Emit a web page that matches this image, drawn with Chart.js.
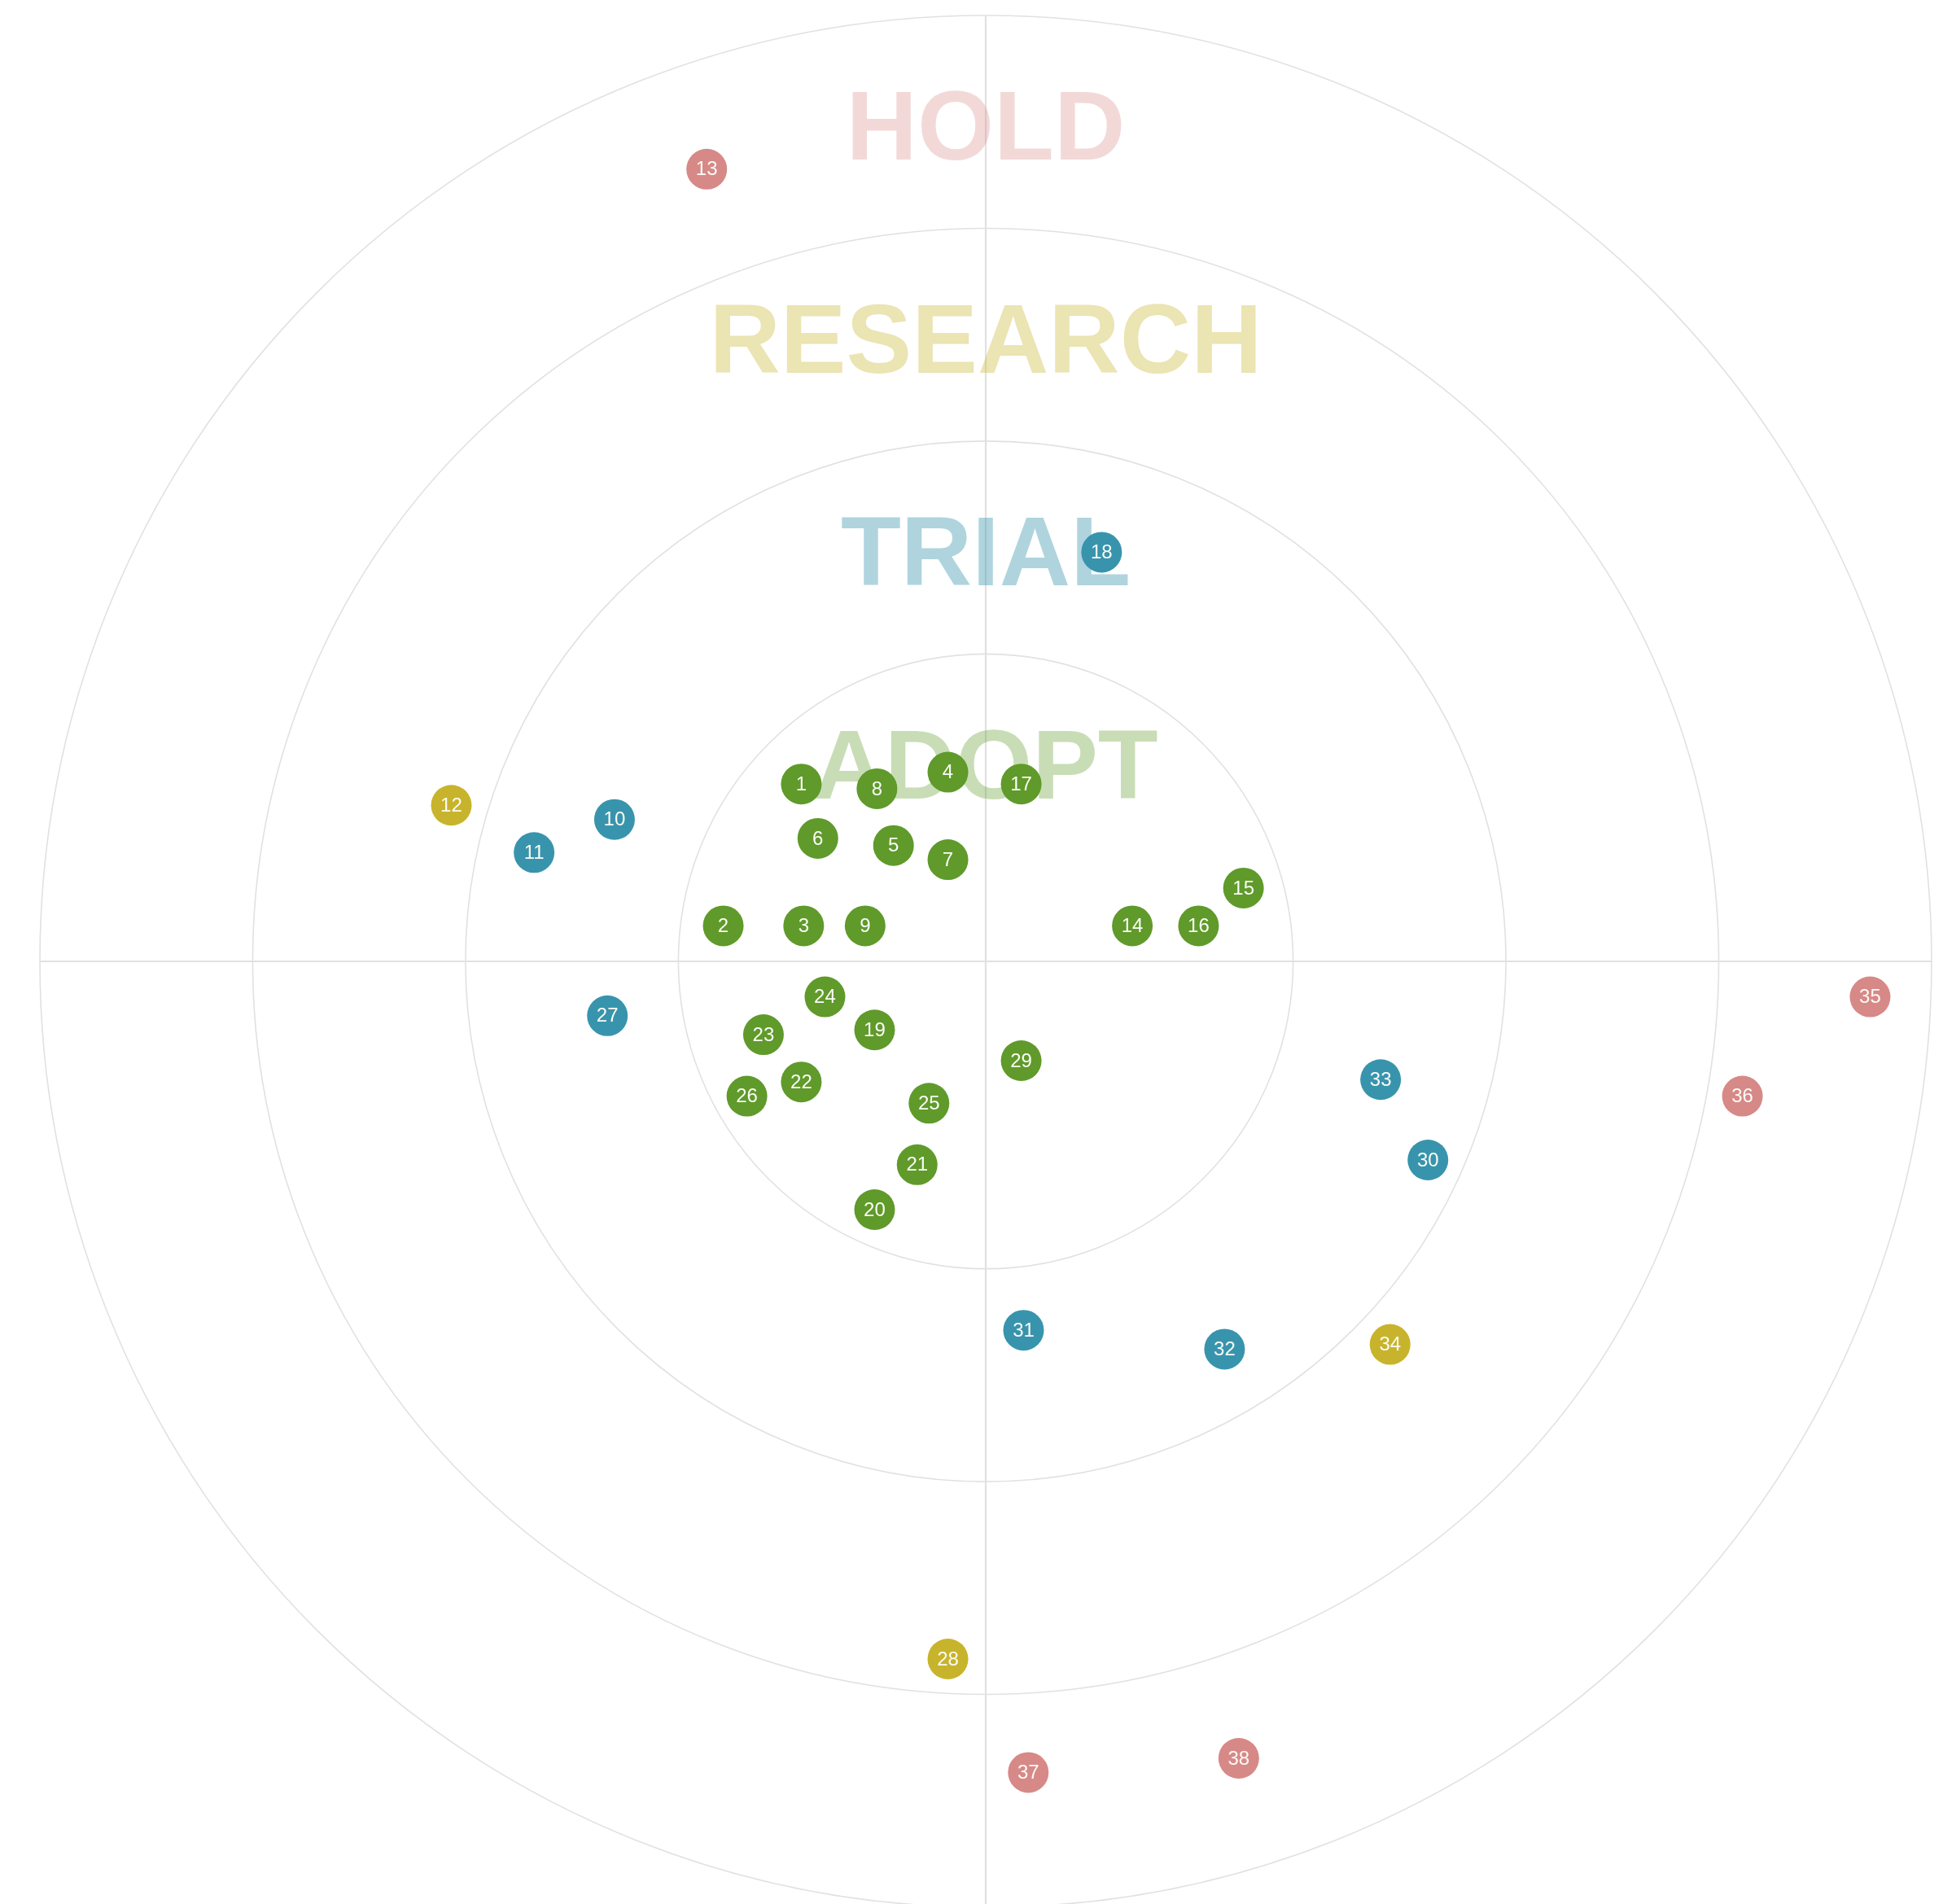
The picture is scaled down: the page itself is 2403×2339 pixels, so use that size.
<!DOCTYPE html>
<html>
<head>
<meta charset="utf-8">
<script src="https://cdn.jsdelivr.net/npm/chart.js@4.4.1/dist/chart.umd.min.js"></script>
<style>
html, body { margin: 0; padding: 0; background: #fff; }
#wrap { width: 2403px; height: 2339px; position: relative; }
</style>
</head>
<body>
<div id="wrap"><canvas id="radar"></canvas></div>
<script>
// rings, inner to outer
const ringNames = ["ADOPT", "TRIAL", "RESEARCH", "HOLD"];
const ringRadii = [130, 220, 310, 400];
const ringDotColors = ["#5f9a2a", "#3894ad", "#c8b42c", "#d68987"];
const ringLabelColors = [
    "rgba(95,154,42,0.34)",
    "rgba(56,148,173,0.40)",
    "rgba(200,180,44,0.36)",
    "rgba(214,137,135,0.32)"
];

// blips: number, position (radar units), ring index
const blipIds = [1, 2, 3, 4, 5, 6, 7, 8, 9, 10, 11, 12, 13, 14, 15, 16, 17, 18, 19,
    20, 21, 22, 23, 24, 25, 26, 27, 28, 29, 30, 31, 32, 33, 34, 35, 36, 37, 38];
const blipX = [-78, -111, -77, -16, -39, -71, -16, -46, -51, -157, -191, -226, -118, 62, 109, 90, 15, 49, -47,
    -47, -29, -78, -94, -68, -24, -101, -160, -16, 15, 187, 16, 101, 167, 171, 374, 320, 18, 107];
const blipY = [75, 15, 15, 80, 49, 52, 43, 73, 15, 60, 46, 66, 335, 15, 31, 15, 75, 173, -29,
    -105, -86, -51, -31, -15, -60, -57, -23, -295, -42, -84, -156, -164, -50, -162, -15, -57, -343, -337];
const blipRing = [0, 0, 0, 0, 0, 0, 0, 0, 0, 1, 1, 2, 3, 0, 0, 0, 0, 1, 0,
    0, 0, 0, 0, 0, 0, 0, 1, 2, 0, 1, 1, 1, 1, 2, 3, 3, 3, 3];

const datasets = ringNames.map((name, r) => {
    const idx = blipIds.map((_, i) => i).filter((i) => blipRing[i] === r);
    return {
        label: name,
        ids: idx.map((i) => blipIds[i]),
        data: idx.map((i) => ({ x: blipX[i], y: blipY[i] })),
        backgroundColor: ringDotColors[r],
        borderWidth: 0,
        pointRadius: 25,
        pointHoverRadius: 25,
    };
});

const radarBackdrop = {
    id: "radarBackdrop",
    beforeDatasetsDraw(chart) {
        const { ctx, scales: { x, y } } = chart;
        const cx = x.getPixelForValue(0);
        const cy = y.getPixelForValue(0);
        const unit = x.getPixelForValue(1) - cx;
        const outer = ringRadii[ringRadii.length - 1] * unit;
        ctx.save();
        ctx.strokeStyle = "#e1e1e1";
        ctx.lineWidth = 1.6;
        ringRadii.forEach((r) => {
            ctx.beginPath();
            ctx.arc(cx, cy, r * unit, 0, Math.PI * 2);
            ctx.stroke();
        });
        ctx.lineWidth = 2.2;
        ctx.beginPath();
        ctx.moveTo(cx - outer, cy);
        ctx.lineTo(cx + outer, cy);
        ctx.moveTo(cx, cy - outer);
        ctx.lineTo(cx, cy + outer);
        ctx.stroke();

        ctx.font = `bold ${Math.round(41.6 * unit)}px "Liberation Sans", Arial, sans-serif`;
        ctx.textAlign = "center";
        ctx.textBaseline = "alphabetic";
        ringNames.forEach((name, i) => {
            ctx.fillStyle = ringLabelColors[i];
            ctx.fillText(name, cx, y.getPixelForValue(ringRadii[i] - 61));
        });
        ctx.restore();
    },
    afterDatasetsDraw(chart) {
        const ctx = chart.ctx;
        ctx.save();
        ctx.font = '24px "Liberation Sans", Arial, sans-serif';
        ctx.fillStyle = "#fbfbf6";
        ctx.textAlign = "center";
        ctx.textBaseline = "middle";
        chart.data.datasets.forEach((ds, d) => {
            chart.getDatasetMeta(d).data.forEach((pt, i) => {
                ctx.fillText(String(ds.ids[i]), pt.x, pt.y + 1);
            });
        });
        ctx.restore();
    },
};

const pxPerUnit = 1162 / 400;
new Chart(document.getElementById("radar"), {
    type: "scatter",
    data: { datasets: datasets },
    options: {
        responsive: true,
        maintainAspectRatio: false,
        animation: false,
        layout: { padding: 0, autoPadding: false },
        plugins: {
            legend: { display: false },
            tooltip: { enabled: false },
        },
        scales: {
            x: { display: false, min: -1211 / pxPerUnit, max: (2403 - 1211) / pxPerUnit },
            y: { display: false, min: -(2339 - 1181) / pxPerUnit, max: 1181 / pxPerUnit },
        },
    },
    plugins: [radarBackdrop],
});
</script>
</body>
</html>
